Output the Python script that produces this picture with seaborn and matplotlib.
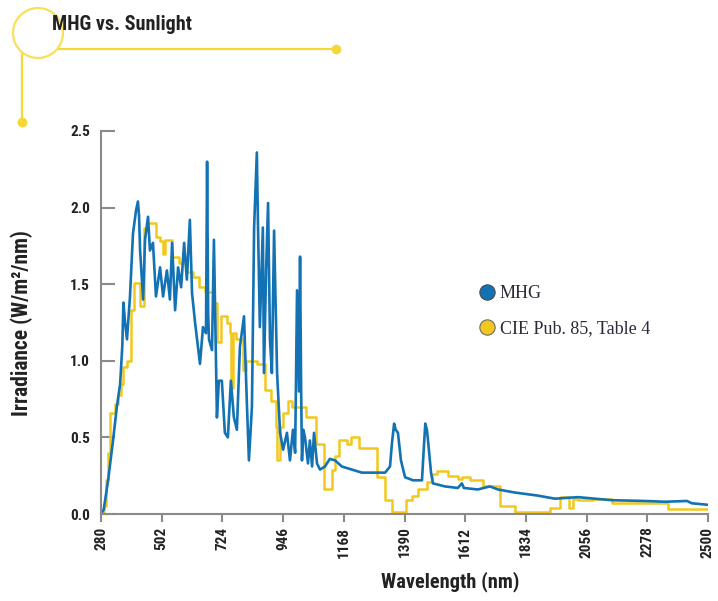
import numpy as np
import pandas as pd
import matplotlib
matplotlib.use("Agg")
import matplotlib.pyplot as plt
from matplotlib.lines import Line2D
from matplotlib.patches import Circle
from matplotlib import font_manager
import seaborn as sns

# ---------------- data ----------------
title = "MHG vs. Sunlight"
x_ticks = [280, 502, 724, 946, 1168, 1390, 1612, 1834, 2056, 2278, 2500]
y_ticks = [0.0, 0.5, 1.0, 1.5, 2.0, 2.5]

mhg_wl = [280, 290, 306, 324, 338, 350, 358, 362, 368, 375, 386, 397, 408, 415, 419,
          423, 434, 441, 452, 459, 470, 481, 496, 507, 521, 532, 540, 551, 562, 573,
          584, 594, 605, 613, 624, 634, 642, 653, 664, 668, 672, 675, 686, 693, 704,
          711, 722, 733, 744, 755, 766, 777, 788, 803, 814, 821, 832, 840, 850, 854,
          861, 872, 876, 884, 891, 898, 905, 913, 924, 935, 946, 960, 971, 982, 990,
          997, 1004, 1008, 1012, 1015, 1020, 1026, 1037, 1044, 1052, 1059, 1070, 1081,
          1099, 1117, 1136, 1161, 1198, 1234, 1282, 1319, 1337, 1344, 1352, 1358, 1366,
          1377, 1392, 1421, 1454, 1458, 1466, 1472, 1476, 1487, 1494, 1538, 1585, 1600,
          1607, 1658, 1702, 1732, 1794, 1878, 1940, 2024, 2149, 2269, 2343, 2423, 2441,
          2500]
mhg_val = [0.00, 0.03, 0.22, 0.48, 0.70, 0.85, 1.10, 1.38, 1.25, 1.14, 1.42, 1.83, 1.98,
           2.04, 1.95, 1.72, 1.40, 1.79, 1.94, 1.72, 1.77, 1.42, 1.61, 1.42, 1.59, 1.40,
           1.77, 1.33, 1.61, 1.48, 1.77, 1.53, 1.92, 1.44, 1.25, 1.10, 0.98, 1.22, 1.18,
           2.30, 1.30, 1.14, 1.07, 1.79, 0.63, 0.87, 0.87, 0.53, 0.50, 0.87, 0.63, 0.55,
           1.09, 1.29, 0.70, 0.35, 0.70, 1.87, 2.36, 1.90, 1.22, 1.87, 0.92, 1.60, 2.03,
           1.14, 0.92, 1.85, 0.92, 0.53, 0.42, 0.53, 0.35, 0.55, 0.40, 1.46, 0.80, 1.68,
           0.81, 0.35, 0.55, 0.50, 0.33, 0.48, 0.31, 0.53, 0.33, 0.29, 0.31, 0.36, 0.35,
           0.31, 0.29, 0.27, 0.27, 0.27, 0.31, 0.46, 0.59, 0.55, 0.53, 0.35, 0.24, 0.22,
           0.22, 0.35, 0.59, 0.55, 0.48, 0.27, 0.20, 0.18, 0.17, 0.20, 0.17, 0.16, 0.18,
           0.16, 0.14, 0.12, 0.10, 0.11, 0.09, 0.085, 0.08, 0.085, 0.07, 0.06]

cie_wl = [280, 290, 298, 305, 313, 330, 342, 352, 362, 375, 390, 400, 422, 437, 450,
          480, 495, 505, 515, 540, 565, 595, 615, 640, 660, 695, 705, 718, 740, 750,
          755, 762, 775, 800, 810, 850, 880, 900, 920, 925, 935, 945, 965, 980, 1030,
          1065, 1095, 1125, 1135, 1150, 1180, 1195, 1225, 1290, 1318, 1344, 1395, 1417,
          1440, 1472, 1490, 1508, 1549, 1585, 1600, 1630, 1677, 1739, 1794, 1922, 1960,
          1990, 2005, 2025, 2080, 2150, 2353, 2500]
cie_val = [0.00, 0.05, 0.22, 0.40, 0.66, 0.72, 0.78, 0.85, 0.96, 1.00, 1.33, 1.51, 1.36,
           1.87, 1.90, 1.81, 1.78, 1.70, 1.79, 1.68, 1.64, 1.58, 1.55, 1.48, 1.45, 1.38,
           1.12, 1.29, 1.25, 1.18, 0.82, 1.18, 1.14, 0.94, 1.00, 0.98, 0.81, 0.74, 0.57,
           0.35, 0.57, 0.66, 0.74, 0.70, 0.63, 0.46, 0.16, 0.29, 0.38, 0.48, 0.46, 0.50,
           0.43, 0.24, 0.09, 0.01, 0.09, 0.12, 0.16, 0.21, 0.26, 0.28, 0.25, 0.23, 0.24,
           0.22, 0.18, 0.05, 0.01, 0.04, 0.11, 0.04, 0.10, 0.09, 0.095, 0.075, 0.03, 0.03]

series_names = ["MHG", "CIE Pub. 85, Table 4"]
blue = "#1372b4"
yellow = "#f2c81c"

# ---------------- style ----------------
sns.set_theme(style="white")
plt.rcParams["font.family"] = ["DejaVu Sans"]

installed = {f.name for f in font_manager.fontManager.ttflist}
narrow = None
for cand in ["Liberation Sans Narrow", "DejaVu Sans Condensed", "Roboto Condensed", "Open Sans Condensed"]:
    if cand in installed:
        narrow = cand
        break
if narrow is None:
    cond_font = dict(family="DejaVu Sans", fontstretch="condensed")
    scale = 0.88
else:
    cond_font = dict(family=narrow)
    scale = 1.0

fig = plt.figure(figsize=(7.18, 6.01), dpi=100)

# background decoration layer in pixel coordinates
bg = fig.add_axes([0, 0, 1, 1])
bg.set_xlim(0, 718)
bg.set_ylim(601, 0)
bg.axis("off")
deco = "#f5d835"
bg.add_patch(Circle((38, 33), 25, fill=False, edgecolor="#f7e05a", lw=1.6))
bg.plot([58, 336], [49, 49], color=deco, lw=1.6, solid_capstyle="butt")
bg.plot([336], [49], "o", color=deco, ms=6)
bg.plot([22, 22], [54, 122], color=deco, lw=1.6)
bg.plot([22], [122], "o", color=deco, ms=6)

ax = fig.add_axes([101 / 718, 87 / 601, 607 / 718, 383 / 601])
ax.set_facecolor("none")

df_cie = pd.DataFrame({"wl": cie_wl, "val": cie_val})
df_mhg = pd.DataFrame({"wl": mhg_wl, "val": mhg_val})
sns.lineplot(data=df_cie, x="wl", y="val", ax=ax, color=yellow, lw=1.8,
             drawstyle="steps-post", sort=False)
sns.lineplot(data=df_mhg, x="wl", y="val", ax=ax, color=blue, lw=1.9, sort=False)

ax.set_xlim(280, 2500)
ax.set_ylim(0, 2.5)
ax.set_xticks(x_ticks)
ax.set_yticks(y_ticks)
tick_font = dict(fontweight="bold", fontsize=11 * scale, color="#222222", **cond_font)
ax.set_xticklabels([str(t) for t in x_ticks], rotation=90, **tick_font)
ax.set_yticklabels([f"{t:.1f}" for t in y_ticks], **tick_font)
ax.set_xlabel("")
ax.set_ylabel("")
for s in ["top", "right"]:
    ax.spines[s].set_visible(False)
for s in ["left", "bottom"]:
    ax.spines[s].set_color("#8a8a8a")
    ax.spines[s].set_linewidth(1.5)
ax.tick_params(axis="y", direction="in", length=10, width=1.5, color="#8a8a8a", pad=8, left=True)
ax.tick_params(axis="x", direction="out", length=6, width=1.5, color="#8a8a8a", pad=3, bottom=True)
ax.grid(False)

handles = [Line2D([], [], marker="o", ls="", ms=11, markerfacecolor=blue, markeredgecolor="#4a4a4a", markeredgewidth=0.8),
           Line2D([], [], marker="o", ls="", ms=11, markerfacecolor=yellow, markeredgecolor="#6a6a6a", markeredgewidth=0.8)]
leg = fig.legend(handles, series_names, loc="upper left", bbox_to_anchor=(460 / 718, 1 - 269 / 601),
                 frameon=False, handletextpad=0.1, handlelength=1.2, labelspacing=1.0,
                 prop={"family": "Liberation Serif", "size": 13})
for t in leg.get_texts():
    t.set_color("#2a2a3a")

fig.text(450 / 718, 1 - 582 / 601, "Wavelength (nm)", ha="center", va="center",
         fontweight="bold", fontsize=14.7 * scale, color="#222222", **cond_font)
fig.text(22 / 718, 1 - 323 / 601, "Irradiance (W/m²/nm)", ha="center", va="center", rotation=90,
         fontweight="bold", fontsize=15.5 * scale, color="#222222", **cond_font)
fig.text(52 / 718, 1 - 24 / 601, title, ha="left", va="center", fontweight="bold",
         fontsize=14.5 * scale, color="#222222", **cond_font)

fig.savefig("out.png", dpi=100)
